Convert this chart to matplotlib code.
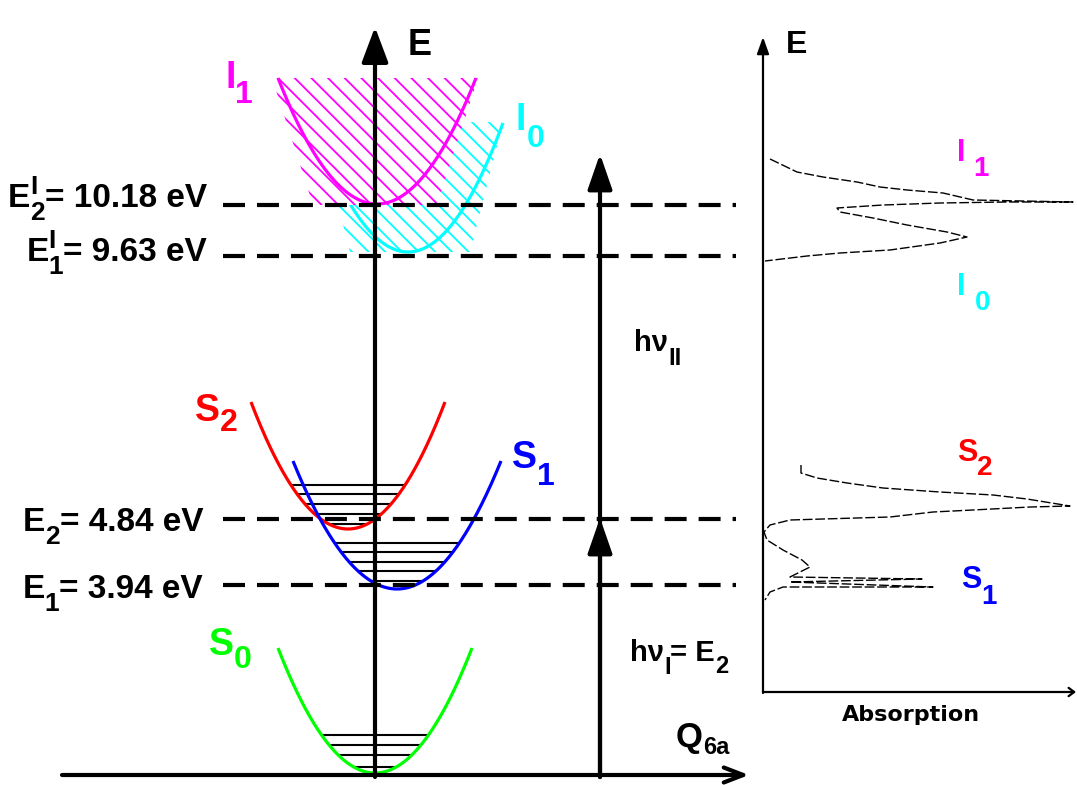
import matplotlib
matplotlib.use("Agg")
import matplotlib.pyplot as plt
import numpy as np

plt.rcParams['font.family'] = ['Liberation Sans', 'DejaVu Sans']
plt.rcParams['hatch.linewidth'] = 1.3

# ---------------- data ----------------
level_values = ["10.18", "9.63", "4.84", "3.94"]          # eV
level_subs = ["2", "1", "2", "1"]
level_sups = ["I", "I", None, None]

state_names = ["I", "I", "S", "S", "S"]
state_subs = ["1", "0", "2", "1", "0"]
state_colors = ["#ff00ff", "#00ffff", "#ff0000", "#0000ff", "#00ff00"]

# vibrational level heights above the potential minimum (S2, S1, S0)
vib_s2 = [5, 15, 25, 35, 44]
vib_s1 = [8, 18, 27, 37, 46]
vib_s0 = [6, 18, 28, 38]

# absorption spectrum (energy position, absorption)
spec_ion_y = [159, 172, 177, 182, 187, 190, 193, 200, 202, 202, 203, 205, 208,
              212, 218, 225, 232, 237, 243, 250, 253, 256, 261]
spec_ion_a = [770, 797, 823, 857, 880, 907, 943, 973, 1073, 1007, 940, 883, 837,
              840, 873, 907, 947, 967, 940, 890, 840, 807, 765]
spec_neu_y = [465, 473, 478, 483, 488, 492, 495, 499, 506, 507, 510, 512, 517,
              519, 520, 525, 532, 540, 550, 560, 567, 577, 579, 582, 587, 587,
              592, 600]
spec_neu_a = [801, 801, 817, 847, 883, 940, 993, 1027, 1070, 1030, 973, 933, 890,
              823, 790, 770, 764, 767, 783, 802, 810, 790, 922, 790, 933, 783,
              770, 765]

# ---------------- layout (pixel frame) ----------------
W, H = 1077, 785
level_y = [205, 256, 519, 585]
label_baseline = [207, 261, 531, 598]
label_right = [207, 207, 203, 203]
# potential curves: (x_min, y_min, half width at top, height)
pot = {
    "I1": (377, 204, 99, 126),
    "I0": (408, 252, 95, 129),
    "S2": (348, 529, 97, 127),
    "S1": (397, 589, 104, 128),
    "S0": (375, 773, 97, 125),
}

fig = plt.figure(figsize=(W / 100, H / 100), dpi=100)
ax = fig.add_axes([0, 0, 1, 1])
ax.set_xlim(0, W)
ax.set_ylim(H, 0)
ax.axis('off')
R = fig.canvas.get_renderer()


def tw(s, size, family=None):
    kw = {} if family is None else {"family": family}
    t = ax.text(0, 0, s, fontsize=size, fontweight='bold', **kw)
    w = t.get_window_extent(R).width
    t.remove()
    return w


def rich(x, y, segs, color='k', ha='left', family=None):
    widths = []
    for seg in segs:
        if seg[0] == 'gap':
            widths.append(seg[1])
        elif seg[0] == 'stack':
            widths.append(max(tw(t, s, family) for t, s, d in seg[1]))
        else:
            widths.append(tw(seg[0], seg[1], family))
    total = sum(widths)
    cx = x - total if ha == 'right' else x
    kw = {} if family is None else {"family": family}
    for seg, w in zip(segs, widths):
        if seg[0] != 'gap':
            items = seg[1] if seg[0] == 'stack' else [seg]
            for t, s, d in items:
                ax.text(cx, y + d, t, fontsize=s, fontweight='bold', color=color,
                        va='baseline', ha='left', zorder=10, **kw)
        cx += w


def curve(key, color, lw=2.3, z=3):
    xv, yv, hw, h = pot[key]
    x = np.linspace(xv - hw, xv + hw, 200)
    y = yv - h * ((x - xv) / hw) ** 2
    ax.plot(x, y, color=color, lw=lw, zorder=z, solid_capstyle='butt')


def vib(key, heights):
    xv, yv, hw, h = pot[key]
    for d in heights:
        dx = hw * np.sqrt(d / h)
        ax.plot([xv - dx, xv + dx], [yv - d, yv - d], color='k', lw=1.5, zorder=2,
                solid_capstyle='butt')


def hatch_region(xc, y_top, y_bot, hw_top, hw_bot, color, face, z):
    y = np.linspace(y_top, y_bot, 50)
    hw = hw_top + (hw_bot - hw_top) * (y - y_top) / (y_bot - y_top)
    ax.fill_betweenx(y, xc - hw, xc + hw, facecolor=face, edgecolor=color,
                     hatch='\\\\', linewidth=0, zorder=z)


# ion hatched regions
hatch_region(410, 122, 252, 93, 60, state_colors[1], 'none', 1)
curve("I0", state_colors[1], z=2)
hatch_region(375, 78, 205, 103, 62, state_colors[0], 'white', 3)
curve("I1", state_colors[0], z=4)

# neutral states
curve("S2", state_colors[2])
curve("S1", state_colors[3])
curve("S0", state_colors[4])
vib("S2", vib_s2)
vib("S1", vib_s1)
vib("S0", vib_s0)

# dashed energy levels
for yl in level_y:
    ax.plot([223, 736], [yl, yl], color='k', lw=3, zorder=5,
            linestyle=(0, (22 / 4.17, 12 / 4.17)), dash_capstyle='butt')

# axes of the diagram
ax.annotate('', xy=(375, 27), xytext=(375, 777),
            arrowprops=dict(arrowstyle='-|>,head_length=0.72,head_width=0.27',
                            mutation_scale=30, lw=3, color='k',
                            shrinkA=0, shrinkB=0), zorder=8)
ax.annotate('', xy=(749, 775), xytext=(62, 775),
            arrowprops=dict(arrowstyle='->,head_length=0.7,head_width=0.27',
                            mutation_scale=20, lw=3, color='k',
                            shrinkA=0, shrinkB=0), zorder=8)
# photon arrows
ax.annotate('', xy=(600, 154), xytext=(600, 777),
            arrowprops=dict(arrowstyle='-|>,head_length=0.72,head_width=0.25',
                            mutation_scale=30, lw=3, color='k',
                            shrinkA=0, shrinkB=0), zorder=8)
ax.annotate('', xy=(600, 518), xytext=(600, 777),
            arrowprops=dict(arrowstyle='-|>,head_length=0.72,head_width=0.25',
                            mutation_scale=30, lw=3, color='k',
                            shrinkA=0, shrinkB=0), zorder=8)

# energy level labels
for val, sb, sp, yb, xr in zip(level_values, level_subs, level_sups,
                               label_baseline, label_right):
    if sp:
        mid = ('stack', [(sb, 19, 13), (sp, 19, -13)])
    else:
        mid = (sb, 19, 13)
    rich(xr, yb, [("E", 24, 0), mid, ("= " + val + " eV", 24, 0)], ha='right')

# axis labels
rich(408, 55, [("E", 26, 0)])
rich(676, 747, [("Q", 25, 0), ("6a", 17, 7)])
rich(634, 351, [("h\u03bd", 21, 0), ("II", 17, 14)])
rich(630, 661, [("h\u03bd", 21, 0), ("I", 17, 13), ("= E", 21, 0), ("2", 17, 12)])

# state labels on the diagram
left_pos = [(225, 88, 15), (516, 130, 17), (195, 421, 10), (512, 468, 17), (209, 655, 13)]
for nm, sb, col, (x, yb, d) in zip(state_names, state_subs, state_colors, left_pos):
    rich(x, yb, [(nm, 27, 0), (sb, 23, d)], color=col)

# ---------------- absorption panel ----------------
ax.annotate('', xy=(763, 37), xytext=(763, 693),
            arrowprops=dict(arrowstyle='-|>,head_length=0.5,head_width=0.18',
                            mutation_scale=20, lw=1.6, color='k',
                            shrinkA=0, shrinkB=0))
ax.annotate('', xy=(1076, 692), xytext=(763, 692),
            arrowprops=dict(arrowstyle='->,head_length=0.2,head_width=0.15',
                            mutation_scale=20, lw=1.6, color='k',
                            shrinkA=0, shrinkB=0))
ax.plot(spec_ion_a, spec_ion_y, color='k', lw=1.0, linestyle=(0, (7, 2)))
ax.plot(spec_neu_a, spec_neu_y, color='k', lw=1.0, linestyle=(0, (7, 2)))

rich(786, 53, [("E", 23, 0)])
rich(842, 721, [("Absorption", 16, 0)], family='DejaVu Sans')

right_pos = [(957, 161, 15, 8), (957, 295, 15, 9), (957, 461, 14, 0), (961, 588, 16, 0)]
for nm, sb, col, (x, yb, d, g) in zip(state_names[:4], state_subs[:4], state_colors[:4],
                                      right_pos):
    rich(x, yb, [(nm, 22, 0), ('gap', g), (sb, 20, d)], color=col)

fig.savefig("out.png", dpi=100)
